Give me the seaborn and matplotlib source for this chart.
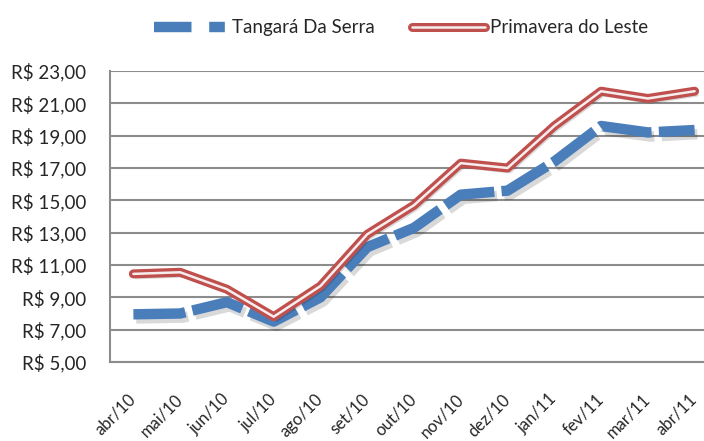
import pandas as pd
import numpy as np
import matplotlib.pyplot as plt
import matplotlib.patheffects as pe
from matplotlib.lines import Line2D
import seaborn as sns

meses = ["abr/10", "mai/10", "jun/10", "jul/10", "ago/10", "set/10", "out/10",
         "nov/10", "dez/10", "jan/11", "fev/11", "mar/11", "abr/11"]
tangara = [7.95, 8.0, 8.7, 7.5, 9.0, 12.1, 13.3, 15.35, 15.6, 17.4, 19.6, 19.2, 19.35]
primavera = [10.45, 10.55, 9.5, 7.8, 9.7, 12.9, 14.7, 17.3, 17.0, 19.6, 21.75, 21.3, 21.75]

azul = "#4a7ebb"
vermelho = "#c0504d"
interior = "#f6eeee"

df = pd.DataFrame({"mes": meses, "Tangará Da Serra": tangara, "Primavera do Leste": primavera})
df["x"] = np.arange(len(meses))

sns.set_style("white")
plt.rcParams['font.family'] = ['Lato', 'DejaVu Sans']

fig = plt.figure(figsize=(7.04, 4.41), dpi=100)
ax = fig.add_axes([110/704, 1-362/441, 608/704, 291/441])

sombra = pe.SimpleLineShadow(offset=(2, -3), alpha=0.15, shadow_color="black")

# Tangará: linha azul tracejada e grossa
sns.lineplot(data=df, x="x", y="Tangará Da Serra", ax=ax, color=azul, lw=7.5,
             path_effects=[sombra, pe.Normal()], zorder=3)
l_azul = ax.lines[-1]
l_azul.set_dashes((5, 0.7))
l_azul.set_dash_capstyle("butt")

# Primavera: linha dupla (vermelho por fora, branco no meio)
contorno = [sombra, pe.Stroke(linewidth=6.5, foreground=vermelho, capstyle="round"), pe.Normal()]
sns.lineplot(data=df, x="x", y="Primavera do Leste", ax=ax, color=interior, lw=1.8,
             path_effects=contorno, zorder=4)

ax.set_xlim(-0.5, 12.5)
ax.set_ylim(5, 23)
ax.set_yticks(np.arange(5, 24, 2))
ax.set_yticklabels([f"R$ {v},00" for v in range(5, 24, 2)], fontsize=13.5)
ax.set_xticks(df["x"])
ax.set_xticklabels(meses, rotation=45, ha="right", rotation_mode="anchor", fontsize=12)
ax.tick_params(axis="x", pad=25, length=0)
ax.tick_params(axis="y", pad=17, length=0)
for t in ax.get_xticklabels():
    t.set_va("center")
ax.set_xlabel("")
ax.set_ylabel("")
ax.grid(axis="y", color="#8c8c8c", lw=1.5)
ax.set_axisbelow(True)
for s in ["top", "right"]:
    ax.spines[s].set_visible(False)
for s in ["left", "bottom"]:
    ax.spines[s].set_color("#8c8c8c")
    ax.spines[s].set_linewidth(1.5)

h_azul = Line2D([], [], color=azul, lw=7.5, dashes=(3.6, 1.7, 1.5, 5), dash_capstyle="butt")
h_verm = Line2D([], [], color=interior, lw=1.8,
                path_effects=[pe.Stroke(linewidth=6.5, foreground=vermelho, capstyle="round"), pe.Normal()])
fig.legend([h_azul, h_verm], ["Tangará Da Serra", "Primavera do Leste"],
           loc="upper center", bbox_to_anchor=(0.57, 0.995), ncol=2, frameon=False,
           fontsize=13.5, handlelength=3.85, columnspacing=2.0, handletextpad=0.3)

fig.savefig("out.png", dpi=100)
